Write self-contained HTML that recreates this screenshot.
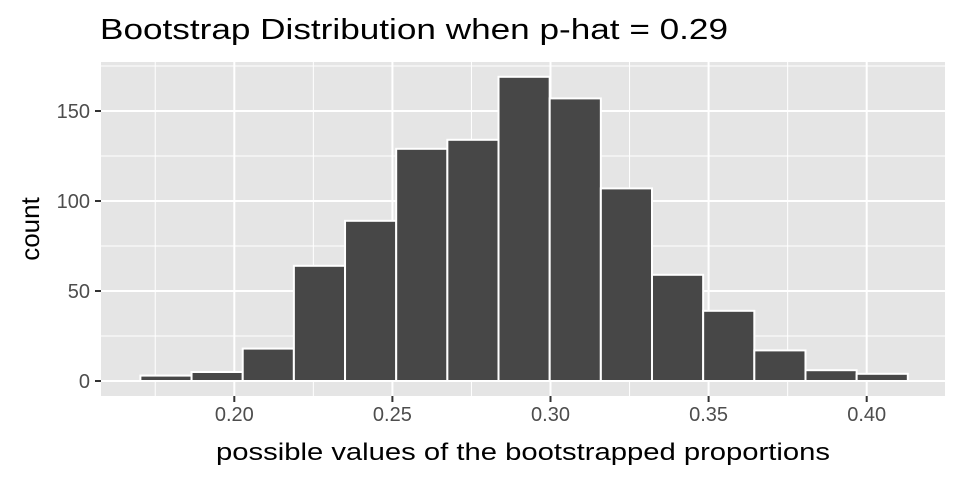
<!DOCTYPE html>
<html><head><meta charset="utf-8"><style>
body{margin:0;background:#fff}
svg{display:block;font-family:"Liberation Sans",Arial,sans-serif}
</style></head><body>
<svg id="chart" width="960" height="480" viewBox="0 0 960 480">
<text x="100" y="39" font-size="29" fill="#000" textLength="628" lengthAdjust="spacingAndGlyphs">Bootstrap Distribution when p-hat = 0.29</text>
<rect x="101" y="62" width="844" height="334" fill="#e5e5e5"/>
<g id="grid"></g>
<g id="bars"></g>
<g id="axes"></g>
<text x="523" y="460" font-size="24" text-anchor="middle" fill="#000" textLength="614" lengthAdjust="spacingAndGlyphs">possible values of the bootstrapped proportions</text>
<text transform="translate(39,229) rotate(-90)" font-size="26" text-anchor="middle" fill="#000">count</text>
</svg>
<script>
const binStart = 0.1703;
const binWidth = 0.01618;
const counts = [3,5,18,64,89,129,134,169,157,107,59,39,17,6,4];
const xTicks = [0.20,0.25,0.30,0.35,0.40];
const xTickLabels = ["0.20","0.25","0.30","0.35","0.40"];
const yTicks = [0,50,100,150];
const yTickLabels = ["0","50","100","150"];

const NS="http://www.w3.org/2000/svg";
const xS = v => 234.3 + (v-0.20)*3162;
const yS = v => 381 - v*1.8;
function mk(tag, attrs, parent){const e=document.createElementNS(NS,tag);for(const k in attrs)e.setAttribute(k,attrs[k]);parent.appendChild(e);return e;}
const grid=document.getElementById('grid'), bars=document.getElementById('bars'), axes=document.getElementById('axes');
for(let i=0;i<xTicks.length+1;i++){
  const v=(i===0?xTicks[0]-0.025:xTicks[i-1]+0.025);
  const x=xS(v); if(x<101||x>945) continue;
  const l=mk('line',{x1:x,x2:x,y1:62,y2:396,stroke:'#fff','stroke-width':1},grid);
  
  
}
for(let i=0;i<yTicks.length;i++){
  const y=yS(yTicks[i]+25); if(y<62) continue;
  const l=mk('line',{x1:101,x2:945,y1:y,y2:y,stroke:'#fff','stroke-width':1},grid);
  
  
}
xTicks.forEach((v,i)=>{
  const x=xS(v);
  const l=mk('line',{x1:x,x2:x,y1:62,y2:396,stroke:'#fff','stroke-width':2},grid);
  
  
  const t=mk('line',{x1:x,x2:x,y1:396,y2:402,stroke:'#333','stroke-width':2},axes);
  
  
  const tx=mk('text',{x:x,y:421,'font-size':20,'text-anchor':'middle',fill:'#4d4d4d'},axes);
  tx.textContent=xTickLabels[i];
  
  
});
yTicks.forEach((v,i)=>{
  const y=yS(v);
  const l=mk('line',{x1:101,x2:945,y1:y,y2:y,stroke:'#fff','stroke-width':2},grid);
  
  
  const t=mk('line',{x1:95,x2:101,y1:y,y2:y,stroke:'#333','stroke-width':2},axes);
  
  
  const tx=mk('text',{x:90,y:y+7,'font-size':20,'text-anchor':'end',fill:'#4d4d4d'},axes);
  tx.textContent=yTickLabels[i];
  
  
});
counts.forEach((c,i)=>{
  const x0=xS(binStart+i*binWidth), x1=xS(binStart+(i+1)*binWidth);
  const r=mk('rect',{x:x0,y:yS(c),width:x1-x0,height:yS(0)-yS(c),fill:'#474747',stroke:'#fff','stroke-width':2},bars);
  
  
});
</script>
</body></html>
